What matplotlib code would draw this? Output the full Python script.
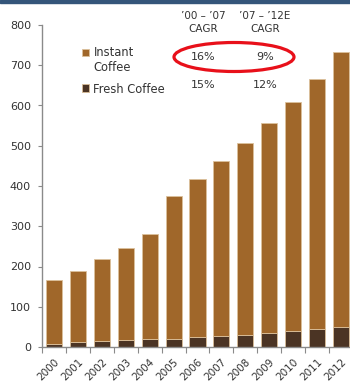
import matplotlib
matplotlib.use("Agg")
import matplotlib.pyplot as plt
from matplotlib.patches import Ellipse, Rectangle
import numpy as np

# 数据
years = [str(y) for y in range(2000, 2013)]
total = [166, 190, 219, 247, 281, 374, 417, 461, 507, 556, 608, 667, 732]
fresh = [8, 12, 14, 17, 19, 21, 24, 28, 31, 35, 39, 44, 50]
instant = [t - f for t, f in zip(total, fresh)]

cagr_headers = ["’00 – ’07\nCAGR", "’07 – ’12E\nCAGR"]
cagr_instant = ["16%", "9%"]
cagr_fresh = ["15%", "12%"]

c_instant = "#a0672a"
c_fresh = "#4b3424"
c_text = "#333333"
c_axis = "#8a8a8a"

plt.rcParams["font.family"] = ["DejaVu Sans"]

fig = plt.figure(figsize=(3.5, 3.85), dpi=100)
ax = fig.add_axes([42 / 350, 38 / 385, 311 / 350, 322 / 385])

x = np.arange(len(years))
ax.bar(x, fresh, width=0.67, color=c_fresh, edgecolor="#d9bd98", linewidth=0.6,
       label="Fresh Coffee")
ax.bar(x, instant, width=0.67, bottom=fresh, color=c_instant, edgecolor="#dcc19c",
       linewidth=0.6, label="Instant\nCoffee")

ax.set_xlim(-0.5, len(years) - 0.5)
ax.set_ylim(0, 800)
ax.set_yticks(range(0, 801, 100))

ax.set_xticks(x)
ax.set_xticklabels(years, rotation=45, ha="right", rotation_mode="anchor",
                   fontsize=7.5, color=c_text)
ax.set_xticks(np.arange(-0.5, len(years), 1), minor=True)
ax.tick_params(axis="x", which="major", length=0, pad=7)
ax.tick_params(axis="x", which="minor", length=4, color=c_axis, width=0.8)
ax.tick_params(axis="y", length=3, color=c_axis, width=0.8, labelsize=8,
               labelcolor=c_text, pad=5)

for s in ["top", "right"]:
    ax.spines[s].set_visible(False)
for s in ["left", "bottom"]:
    ax.spines[s].set_color(c_axis)
    ax.spines[s].set_linewidth(1.0)

# 图例:色块与第一行文字对齐
handles, labels = ax.get_legend_handles_labels()
leg = ax.legend(handles[::-1], labels[::-1], loc="upper left",
                bbox_to_anchor=(0.13, 0.935), frameon=False, fontsize=8.3,
                handlelength=0.6, handleheight=0.6, handletextpad=0.35,
                labelspacing=0.75, labelcolor=c_text,
                borderpad=0, borderaxespad=0)
for col in leg._legend_handle_box.get_children():
    for row in col.get_children():
        row.align = "top"
for h, dy in zip(leg.legend_handles, [2.2, 1.2]):
    h.set_y(h.get_y() - dy)

# CAGR 表
col_x = [203 / 350, 265 / 350]
for cx, h, vi, vf in zip(col_x, cagr_headers, cagr_instant, cagr_fresh):
    fig.text(cx, 1 - 22.5 / 385, h, ha="center", va="center", fontsize=7.5,
             color=c_text, linespacing=1.35)
    fig.text(cx, 1 - 57 / 385, vi, ha="center", va="center", fontsize=8, color=c_text)
    fig.text(cx, 1 - 85 / 385, vf, ha="center", va="center", fontsize=8, color=c_text)

fig.patches.append(Ellipse((234 / 350, 1 - 57 / 385), 120 / 350, 29 / 385,
                           transform=fig.transFigure, fill=False,
                           edgecolor="#e8101a", linewidth=2.3))
fig.patches.append(Rectangle((0, 1 - 2.5 / 385), 1, 2.5 / 385,
                             transform=fig.transFigure, color="#34557a"))

fig.savefig("out.png", dpi=100)
